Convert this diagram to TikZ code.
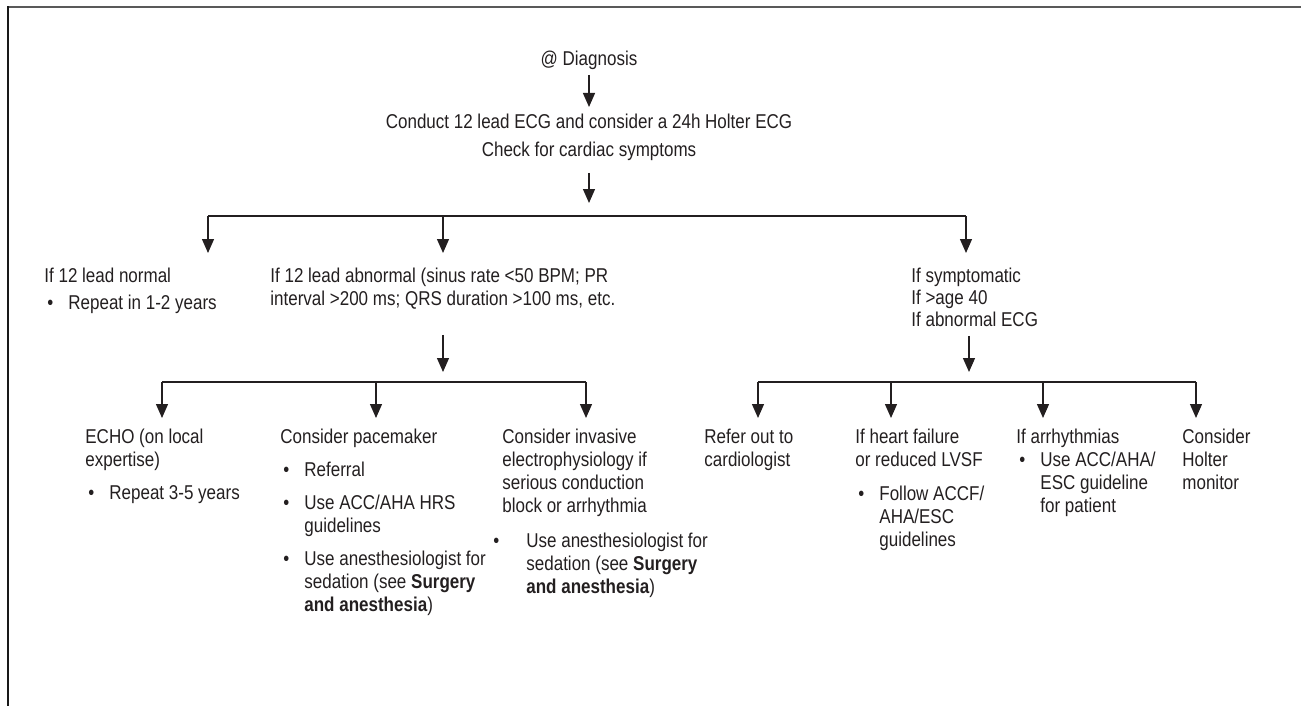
\documentclass[tikz,border=0pt]{standalone}
\usepackage{fontspec}
\setmainfont{Liberation Sans}[FakeStretch=0.85]
\usetikzlibrary{arrows.meta}
\definecolor{ink}{HTML}{231F20}
\newcommand{\lbl}{\fontsize{10pt}{11.5pt}\selectfont}
\newcommand{\bul}{\makebox[12pt][l]{\hspace{1.5pt}\textbullet}}
\newcommand{\ind}{\hspace*{12pt}}
\begin{document}
\begin{tikzpicture}[x=0.5pt,y=-0.5pt,
  line/.style={draw=ink, line width=0.65pt},
  arr/.style={line, -{Triangle[length=7pt,width=6pt]}},
  txt/.style={anchor=north west, inner sep=0pt, align=left, font=\lbl, text=ink},
  ctxt/.style={anchor=north, inner sep=0pt, align=center, font=\lbl, text=ink},
  drop/.style={arr, shorten >=4.5pt},
  dropA/.style={arr, shorten >=6.5pt}]
\useasboundingbox (0,0) rectangle (1301,706);
% frame
\draw[black!65, line width=1pt] (8,7) -- (1301,7);
\draw[black!90, line width=1pt] (8,706) -- (8,6.5);

% top nodes
\node[ctxt] (diag) at (589,49) {\strut @ Diagnosis};
\node[ctxt] (conduct) at (589,112) {\strut Conduct 12 lead ECG and consider a 24h Holter ECG\\[2.5pt]Check for cardiac symptoms\strut};

% second row
\node[txt] (normal) at (44,266) {\strut If 12 lead normal\\[2pt]\bul Repeat in 1-2 years};
\node[txt] (abn) at (270,266) {\strut If 12 lead abnormal (sinus rate <50 BPM; PR\\interval >200 ms; QRS duration >100 ms, etc.\strut};
\node[txt] (sym) at (911,266) {\strut If symptomatic\\[-0.5pt]If >age 40\\[-0.5pt]If abnormal ECG\strut};

% third row
\node[txt] (echo) at (85,427) {\strut ECHO (on local\\expertise)\\[5pt]\bul Repeat 3-5 years};
\node[txt] (pace) at (280,427) {\strut Consider pacemaker\\[5pt]\bul Referral\\[5pt]\bul Use ACC/AHA HRS\\\ind guidelines\\[5pt]\bul Use anesthesiologist for\\\ind sedation (see \textbf{Surgery}\\\ind\textbf{and anesthesia})};
\node[txt] (inv) at (502,427) {\strut Consider invasive\\electrophysiology if\\serious conduction\\block or arrhythmia\\[6pt]\hspace*{-4.5pt}\makebox[16.5pt][l]{\textbullet}Use anesthesiologist for\\\ind sedation (see \textbf{Surgery}\\\ind\textbf{and anesthesia})};
\node[txt] (refer) at (704,427) {\strut Refer out to\\cardiologist};
\node[txt] (hf) at (855,427) {\strut If heart failure\\or reduced LVSF\\[5.5pt]\bul Follow ACCF/\\\ind AHA/ESC\\\ind guidelines};
\node[txt] (arrh) at (1016,427) {\strut If arrhythmias\\\bul Use ACC/AHA/\\\ind ESC guideline\\\ind for patient};
\node[txt] (holter) at (1182,427) {\strut Consider\\Holter\\monitor};

% junctions
\coordinate (j1) at (589,216);
\coordinate (b1L) at (208,216);
\coordinate (b1M) at (443,216);
\coordinate (b1R) at (966,216);
\coordinate (j2) at (443,382);
\coordinate (j3) at (969,382);
\coordinate (b2L) at (162,382);
\coordinate (b2M) at (376,382);
\coordinate (b2R) at (586,382);
\coordinate (b3A) at (758,382);
\coordinate (b3B) at (891,382);
\coordinate (b3C) at (1043,382);
\coordinate (b3D) at (1196,382);

% connectors
\draw[arr, shorten <=1pt, shorten >=2.5pt] (diag.south) -- (conduct.north);
\draw[arr, shorten <=4.5pt, shorten >=6.5pt] (conduct.south) -- (j1);
\draw[line] (b1L) -- (b1R);
\draw[dropA] (b1L) -- (b1L |- normal.north);
\draw[dropA] (b1M) -- (b1M |- abn.north);
\draw[dropA] (b1R) -- (b1R |- sym.north);

\draw[arr, shorten <=11pt, shorten >=5pt] (abn.south -| j2) -- (j2);
\draw[arr, shorten <=1pt, shorten >=5pt] (sym.south -| j3) -- (j3);

\draw[line] (b2L) -- (b2R);
\draw[drop] (b2L) -- (b2L |- echo.north);
\draw[drop] (b2M) -- (b2M |- pace.north);
\draw[drop] (b2R) -- (b2R |- inv.north);

\draw[line] (b3A) -- (b3D);
\draw[drop] (b3A) -- (b3A |- refer.north);
\draw[drop] (b3B) -- (b3B |- hf.north);
\draw[drop] (b3C) -- (b3C |- arrh.north);
\draw[drop] (b3D) -- (b3D |- holter.north);
\end{tikzpicture}
\end{document}
